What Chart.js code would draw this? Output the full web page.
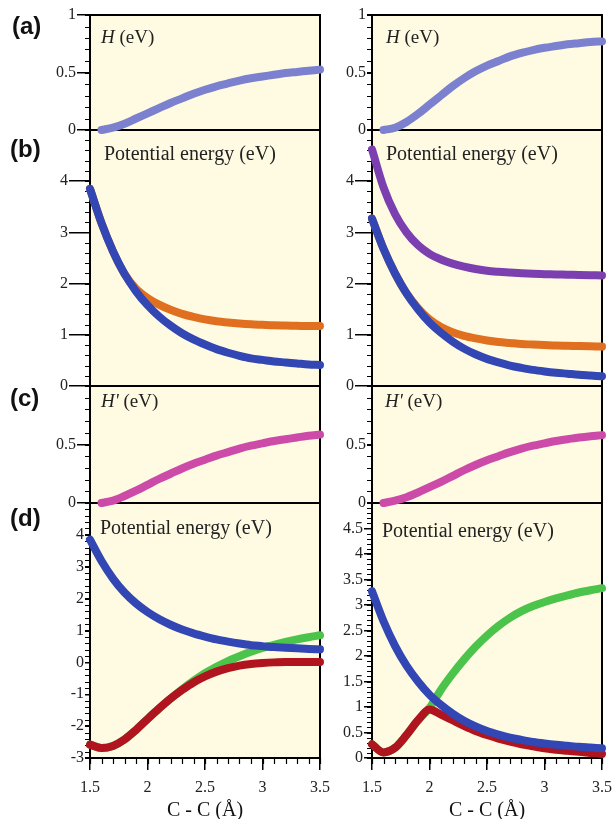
<!DOCTYPE html>
<html>
<head>
<meta charset="utf-8">
<script src="https://cdn.jsdelivr.net/npm/chart.js@4.4.1/dist/chart.umd.min.js"></script>
<style>
  body { margin: 0; background: #fff; width: 613px; height: 819px; position: relative; overflow: hidden; }
  canvas { position: absolute; }
  .lbl { position: absolute; z-index: 20; font: bold 24px "Liberation Sans", Arial, sans-serif; line-height: 24px; color: #111; }
  .note { position: absolute; z-index: 20; font: 19px "Liberation Serif", "Times New Roman", serif; line-height: 20px; color: #222; white-space: nowrap; }
  .note.pe { font-size: 20px; }
</style>
</head>
<body>
<div class="lbl" style="left:12px;top:14px">(a)</div>
<div class="lbl" style="left:10px;top:137px">(b)</div>
<div class="lbl" style="left:10px;top:386px">(c)</div>
<div class="lbl" style="left:10px;top:506px">(d)</div>

<div class="note" style="left:101px;top:27px"><i>H</i> (eV)</div>
<div class="note" style="left:386px;top:27px"><i>H</i> (eV)</div>
<div class="note pe" style="left:104px;top:143px">Potential energy (eV)</div>
<div class="note pe" style="left:386px;top:143px">Potential energy (eV)</div>
<div class="note" style="left:101px;top:391px"><i>H'</i> (eV)</div>
<div class="note" style="left:385px;top:391px"><i>H'</i> (eV)</div>
<div class="note pe" style="left:100px;top:517px">Potential energy (eV)</div>
<div class="note pe" style="left:382px;top:520px">Potential energy (eV)</div>

<script>
// C-C distance (Å), shared by every curve
var bond = [1.5, 1.6, 1.7, 1.8, 1.9, 2.0, 2.1, 2.2, 2.3, 2.4, 2.5, 2.6, 2.7, 2.8, 2.9, 3.0, 3.1, 3.2, 3.3, 3.4, 3.5];
var xTicks = [1.5, 2, 2.5, 3, 3.5];

// (a) coupling H
var hLeft  = [null, 0, 0.02, 0.055, 0.10, 0.145, 0.19, 0.235, 0.275, 0.315, 0.35, 0.38, 0.405, 0.43, 0.45, 0.465, 0.48, 0.495, 0.505, 0.515, 0.525];
var hRight = [null, 0, 0.02, 0.07, 0.14, 0.22, 0.30, 0.38, 0.45, 0.51, 0.56, 0.60, 0.64, 0.67, 0.695, 0.715, 0.73, 0.745, 0.755, 0.765, 0.77];

// (b) potential energy curves
var blueLeft    = [3.85, 3.18, 2.63, 2.19, 1.85, 1.58, 1.36, 1.18, 1.03, 0.91, 0.81, 0.72, 0.65, 0.59, 0.54, 0.51, 0.48, 0.46, 0.44, 0.42, 0.41];
var orangeLeft  = [3.85, 3.18, 2.63, 2.19, 1.90, 1.72, 1.59, 1.49, 1.41, 1.35, 1.30, 1.265, 1.24, 1.22, 1.205, 1.195, 1.185, 1.18, 1.175, 1.17, 1.17];
var blueRight   = [3.27, 2.68, 2.20, 1.81, 1.50, 1.24, 1.04, 0.87, 0.73, 0.62, 0.53, 0.46, 0.40, 0.355, 0.315, 0.285, 0.26, 0.24, 0.22, 0.205, 0.19];
var orangeRight = [3.27, 2.68, 2.20, 1.81, 1.52, 1.30, 1.15, 1.05, 0.98, 0.93, 0.89, 0.86, 0.84, 0.82, 0.81, 0.80, 0.79, 0.785, 0.78, 0.775, 0.77];
var purpleRight = [4.62, 3.88, 3.36, 3.00, 2.75, 2.58, 2.47, 2.39, 2.33, 2.285, 2.25, 2.23, 2.215, 2.20, 2.19, 2.185, 2.18, 2.175, 2.17, 2.165, 2.16];

// (c) coupling H'
var hpLeft  = [null, 0, 0.02, 0.06, 0.105, 0.155, 0.205, 0.25, 0.295, 0.335, 0.37, 0.405, 0.435, 0.465, 0.49, 0.51, 0.53, 0.545, 0.56, 0.575, 0.585];
var hpRight = [null, 0, 0.02, 0.05, 0.09, 0.135, 0.18, 0.23, 0.28, 0.325, 0.365, 0.40, 0.435, 0.465, 0.49, 0.51, 0.53, 0.545, 0.56, 0.57, 0.58];

// (d) potential energy curves
var redLeft    = [-2.58, -2.69, -2.62, -2.42, -2.12, -1.78, -1.45, -1.14, -0.87, -0.63, -0.44, -0.29, -0.18, -0.10, -0.05, -0.02, 0.00, 0.01, 0.01, 0.01, 0.01];
var greenLeft  = [-2.58, -2.69, -2.62, -2.42, -2.12, -1.78, -1.45, -1.14, -0.85, -0.58, -0.34, -0.14, 0.04, 0.19, 0.33, 0.45, 0.55, 0.64, 0.72, 0.79, 0.85];
var redRight   = [0.27, 0.11, 0.20, 0.45, 0.74, 0.95, 0.85, 0.74, 0.63, 0.53, 0.45, 0.38, 0.32, 0.27, 0.23, 0.19, 0.16, 0.14, 0.12, 0.10, 0.08];
var greenRight = [0.27, 0.11, 0.20, 0.45, 0.74, 0.98, 1.34, 1.65, 1.93, 2.18, 2.40, 2.59, 2.75, 2.88, 2.98, 3.06, 3.13, 3.19, 3.245, 3.29, 3.33];

var C = {
    h: '#7b80cf',
    blue: '#3246b4',
    orange: '#e0701f',
    purple: '#7b3fb0',
    magenta: '#cc4aa8',
    green: '#4cc34a',
    red: '#b0141e'
};

var SERIF = '"Liberation Serif", "Times New Roman", serif';

// page layout: plot areas span x 90-320 and 372-602
var columns = [
    { left: 0, width: 330, axisWidth: 90, padRight: 10 },
    { left: 330, width: 283, axisWidth: 42, padRight: 11 }
];
var rows = [
    { top: 15, bottom: 130 },
    { top: 130, bottom: 386 },
    { top: 386, bottom: 503 },
    { top: 503, bottom: 758 }
];

var panels = [
    { col: 0, row: 0, min: 0, max: 1, step: 0.5, minor: 0.1, tick: 13, hideTop: false, series: [[hLeft, C.h]] },
    { col: 1, row: 0, min: 0, max: 1, step: 0.5, minor: 0.1, tick: 5, hideTop: false, series: [[hRight, C.h]] },
    { col: 0, row: 1, min: 0, max: 5, step: 1, minor: 0.2, tick: 21, hideTop: true, series: [[blueLeft, C.blue], [orangeLeft, C.orange]] },
    { col: 1, row: 1, min: 0, max: 5, step: 1, minor: 0.2, tick: 17, hideTop: true, series: [[blueRight, C.blue], [orangeRight, C.orange], [purpleRight, C.purple]] },
    { col: 0, row: 2, min: 0, max: 1, step: 0.5, minor: 0.1, tick: 13, hideTop: true, series: [[hpLeft, C.magenta]] },
    { col: 1, row: 2, min: 0, max: 1, step: 0.5, minor: 0.1, tick: 5, hideTop: true, series: [[hpRight, C.magenta]] },
    { col: 0, row: 3, min: -3, max: 5, step: 1, minor: 0.2, tick: 5, hideTop: true, series: [[blueLeft, C.blue], [redLeft, C.red], [greenLeft, C.green]] },
    { col: 1, row: 3, min: 0, max: 5, step: 0.5, minor: 0.1, tick: 8, hideTop: true, series: [[blueRight, C.blue], [redRight, C.red], [greenRight, C.green]] }
];

// background, frame and minor ticks for each panel
var panelBox = {
    id: 'panelBox',
    beforeDraw: function (chart) {
        var a = chart.chartArea, ctx = chart.ctx;
        ctx.save();
        ctx.fillStyle = '#fffbe3';
        ctx.fillRect(a.left, a.top, a.right - a.left, a.bottom - a.top);
        ctx.restore();
    },
    beforeDatasetsDraw: function (chart, args, opts) {
        var a = chart.chartArea, ctx = chart.ctx, y = chart.scales.y, x = chart.scales.x;
        var i, n, p;
        ctx.save();
        ctx.strokeStyle = '#000';
        ctx.lineWidth = 1.2;
        ctx.beginPath();
        n = Math.round((y.max - y.min) / opts.minorY);
        for (i = 0; i <= n; i++) {
            p = Math.round(y.getPixelForValue(y.min + i * opts.minorY)) + 0.5;
            ctx.moveTo(a.left - 5, p);
            ctx.lineTo(a.left, p);
        }
        if (opts.minorX) {
            n = Math.round((x.max - x.min) / opts.minorX);
            for (i = 0; i <= n; i++) {
                p = Math.round(x.getPixelForValue(x.min + i * opts.minorX)) + 0.5;
                ctx.moveTo(p, a.bottom);
                ctx.lineTo(p, a.bottom + 6);
            }
        }
        ctx.stroke();
        ctx.lineWidth = 2;
        ctx.strokeRect(a.left, a.top, a.right - a.left, a.bottom - a.top);
        ctx.restore();
    }
};

function fmt(v) {
    return String(Math.round(v * 10) / 10);
}

panels.forEach(function (p) {
    var col = columns[p.col], row = rows[p.row];
    var isBottom = p.row === 3;
    var top = row.top - 15;
    var height = isBottom ? 819 - top : row.bottom - row.top + 30;

    var canvas = document.createElement('canvas');
    canvas.width = col.width;
    canvas.height = height;
    canvas.style.left = col.left + 'px';
    canvas.style.top = top + 'px';
    canvas.style.zIndex = 10 - p.row;
    document.body.appendChild(canvas);

    var datasets = p.series.map(function (s) {
        return {
            data: bond.map(function (x, i) { return { x: x, y: s[0][i] }; }),
            borderColor: s[1],
            borderWidth: 8,
            borderCapStyle: 'round',
            borderJoinStyle: 'round',
            pointRadius: 0,
            cubicInterpolationMode: 'monotone',
            fill: false,
            clip: false
        };
    });

    // the top value of a lower panel is the panel above's zero: no label or long tick there
    function isTop(v) {
        return p.hideTop && Math.abs(v - p.max) < 1e-9;
    }

    new Chart(canvas, {
        type: 'line',
        data: { datasets: datasets },
        options: {
            responsive: false,
            animation: false,
            devicePixelRatio: 1,
            layout: { padding: { top: 15, bottom: isBottom ? 0 : 15, left: 0, right: col.padRight } },
            plugins: {
                legend: { display: false },
                tooltip: { enabled: false },
                panelBox: { minorY: p.minor, minorX: isBottom ? 0.1 : 0 }
            },
            scales: {
                x: {
                    type: 'linear',
                    min: 1.5,
                    max: 3.5,
                    display: isBottom,
                    afterBuildTicks: function (s) {
                        s.ticks = xTicks.map(function (v) { return { value: v }; });
                    },
                    afterFit: function (s) {
                        s.height = isBottom ? 61 : 0;
                        s.paddingLeft = 0;
                        s.paddingRight = 0;
                    },
                    ticks: {
                        font: { family: SERIF, size: 16 },
                        color: '#222',
                        padding: 8,
                        maxRotation: 0,
                        callback: function (v) { return fmt(v); }
                    },
                    grid: { drawOnChartArea: false, drawTicks: true, tickLength: 12, color: '#000', lineWidth: 1.5 },
                    border: { display: false },
                    title: {
                        display: true,
                        text: 'C - C (Å)',
                        color: '#111',
                        font: { family: SERIF, size: 20, lineHeight: 0.8 },
                        padding: 0
                    }
                },
                y: {
                    min: p.min,
                    max: p.max,
                    afterFit: function (s) {
                        s.width = col.axisWidth;
                        s.paddingTop = 0;
                        s.paddingBottom = 0;
                    },
                    ticks: {
                        stepSize: p.step,
                        font: { family: SERIF, size: 16 },
                        color: '#222',
                        padding: 1,
                        callback: function (v) {
                            return isTop(v) ? '' : fmt(v);
                        }
                    },
                    grid: {
                        drawOnChartArea: false,
                        drawTicks: true,
                        tickLength: p.tick,
                        color: '#000',
                        tickColor: function (c) {
                            return c.tick && isTop(c.tick.value) ? 'rgba(0,0,0,0)' : '#000';
                        },
                        lineWidth: 1.5
                    },
                    border: { display: false }
                }
            }
        },
        plugins: [panelBox]
    });
});
</script>
</body>
</html>
